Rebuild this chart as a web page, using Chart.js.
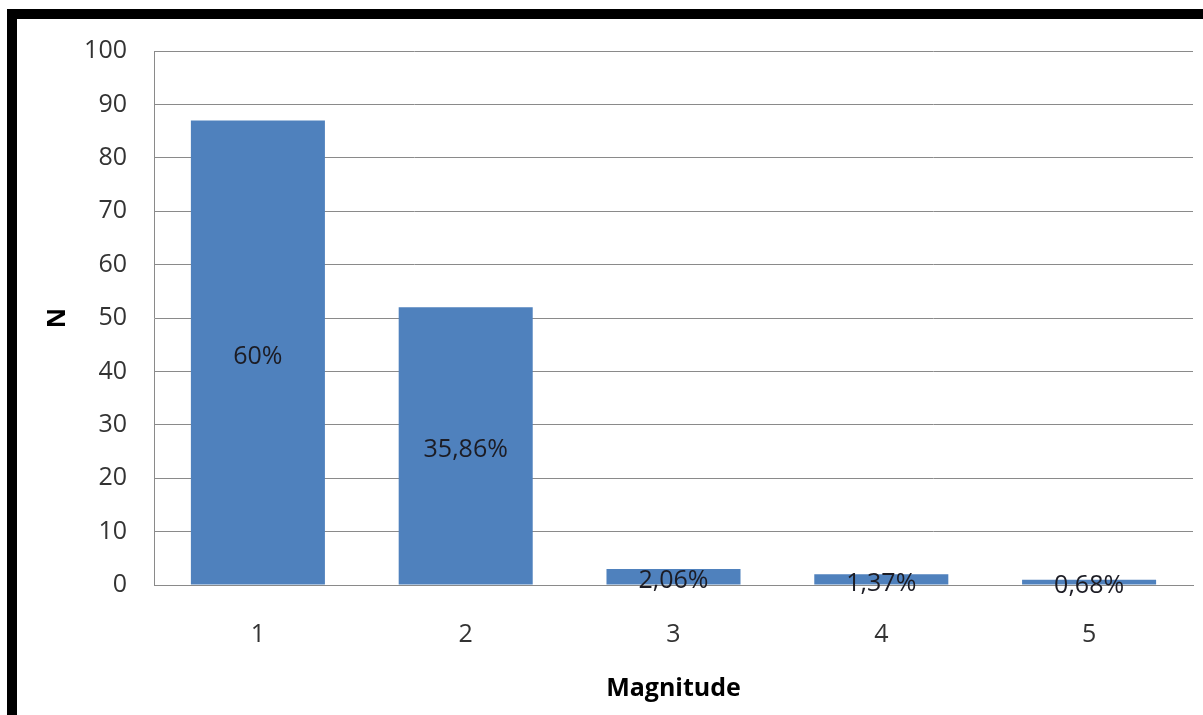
<!DOCTYPE html>
<html>
<head>
<meta charset="utf-8">
<script src="https://cdn.jsdelivr.net/npm/chart.js@4.4.1/dist/chart.umd.min.js"></script>
<style>
  html, body { margin: 0; padding: 0; background: #fff; }
  #wrap { position: relative; width: 1203px; height: 715px; overflow: hidden; }
  #frame {
    position: absolute; left: 7px; top: 9px; width: 1196px; height: 706px;
    border-top: 10px solid #000; border-left: 10px solid #000;
    box-sizing: border-box; pointer-events: none;
  }
</style>
</head>
<body>
<div id="wrap">
  <canvas id="chart" width="1203" height="715"></canvas>
  <div id="frame"></div>
</div>
<script>
// magnitude classes and counts
const magnitudes = ['1', '2', '3', '4', '5'];
const counts = [87, 52, 3, 2, 1];
const shareLabels = ['60%', '35,86%', '2,06%', '1,37%', '0,68%'];
const yTicks = [0, 10, 20, 30, 40, 50, 60, 70, 80, 90, 100];

const FONT = "'Open Sans', 'Liberation Sans', sans-serif";

// draws the percentage inside each bar, centred on it (a bit low, like Excel)
const barLabels = {
    id: 'barLabels',
    afterDatasetsDraw(chart) {
        const ctx = chart.ctx;
        const meta = chart.getDatasetMeta(0);
        ctx.save();
        ctx.font = '25px ' + FONT;
        ctx.fillStyle = '#1c1c24';
        ctx.textAlign = 'center';
        ctx.textBaseline = 'middle';
        meta.data.forEach((bar, i) => {
            const mid = (bar.y + bar.base) / 2 + 4;
            ctx.fillText(shareLabels[i], bar.x, mid);
        });
        ctx.restore();
    }
};

new Chart(document.getElementById('chart'), {
    type: 'bar',
    data: {
        labels: magnitudes,
        datasets: [{
            data: counts,
            backgroundColor: '#4f81bd',
            barPercentage: 0.645,
            categoryPercentage: 1
        }]
    },
    options: {
        responsive: false,
        animation: false,
        layout: { padding: { top: 51, right: 10, left: 0, bottom: 0 } },
        plugins: {
            legend: { display: false },
            tooltip: { enabled: false }
        },
        scales: {
            x: {
                grid: { display: false },
                border: { display: true, color: '#8a8a8a', width: 1 },
                ticks: { color: '#333', font: { family: FONT, size: 25 }, padding: 27 },
                title: {
                    display: true, text: 'Magnitude', color: '#000',
                    font: { family: FONT, size: 25, weight: 'bold' },
                    padding: { top: 0, bottom: 11 }
                },
                afterFit(scale) { scale.height = 130; }
            },
            y: {
                min: 0, max: 100,
                afterBuildTicks(scale) { scale.ticks = yTicks.map(v => ({ value: v })); },
                grid: { color: '#8a8a8a', lineWidth: 1, drawTicks: false },
                border: { display: true, color: '#8a8a8a', width: 1 },
                ticks: { color: '#333', font: { family: FONT, size: 25 }, padding: 27 },
                title: {
                    display: true, text: 'N', color: '#000',
                    font: { family: FONT, size: 25, weight: 'bold' },
                    padding: { top: 43, bottom: 0 }
                },
                afterFit(scale) { scale.width = 154; }
            }
        }
    },
    plugins: [barLabels]
});
</script>
</body>
</html>
